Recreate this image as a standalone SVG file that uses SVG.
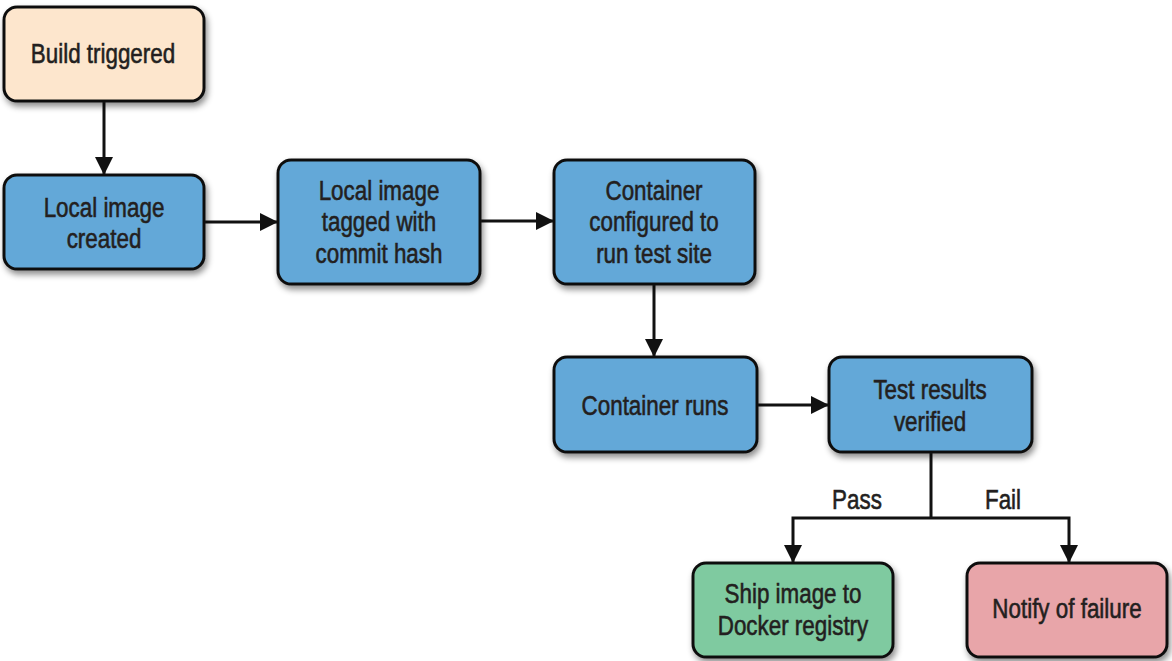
<svg xmlns="http://www.w3.org/2000/svg" width="1172" height="661" viewBox="0 0 1172 661">
<style>
.box{stroke:#111;stroke-width:3;filter:url(#sh)}
.t{font-family:"Liberation Sans",Arial,sans-serif;font-size:28px;fill:#231f20;stroke:#231f20;stroke-width:0.6;text-anchor:middle}
.c{stroke:#111;stroke-width:3;fill:none}
</style>
<defs>
<filter id="sh" x="-10%" y="-10%" width="130%" height="140%">
<feDropShadow dx="2" dy="4" stdDeviation="3" flood-color="#000" flood-opacity="0.45"/>
</filter>
<marker id="ah" markerUnits="userSpaceOnUse" markerWidth="18" markerHeight="18" viewBox="0 0 18 18" refX="17" refY="9" orient="auto">
<path d="M0,0 L18,9 L0,18 Z" fill="#111"/>
</marker>
</defs>
<g id="connectors">
<line class="c" x1="104" y1="101" x2="104" y2="174" marker-end="url(#ah)"/>
<line class="c" x1="205" y1="222" x2="277" y2="222" marker-end="url(#ah)"/>
<line class="c" x1="481" y1="221" x2="553" y2="221" marker-end="url(#ah)"/>
<line class="c" x1="654" y1="285" x2="654" y2="356" marker-end="url(#ah)"/>
<line class="c" x1="757" y1="405" x2="828" y2="405" marker-end="url(#ah)"/>
<polyline class="c" points="931,453 931,518"/>
<polyline class="c" points="931,518 793,518 793,562" marker-end="url(#ah)"/>
<polyline class="c" points="931,518 1069,518 1069,562" marker-end="url(#ah)"/>
<text class="t" transform="translate(857,509) scale(0.8,1)">Pass</text>
<text class="t" transform="translate(1003,509) scale(0.8,1)">Fail</text>
</g>
<g id="build-triggered">
<rect class="box" x="4" y="7" width="200" height="94" rx="13" fill="#fde6cd"/>
<text class="t" transform="translate(103,63) scale(0.8,1)">Build triggered</text>
</g>
<g id="local-image-created">
<rect class="box" x="4" y="175" width="200" height="94" rx="13" fill="#63a8d8"/>
<text class="t" transform="translate(104,217) scale(0.8,1)">Local image</text>
<text class="t" transform="translate(104,248) scale(0.8,1)">created</text>
</g>
<g id="local-image-tagged">
<rect class="box" x="278" y="160" width="202" height="124" rx="13" fill="#63a8d8"/>
<text class="t" transform="translate(379,200) scale(0.8,1)">Local image</text>
<text class="t" transform="translate(379,231) scale(0.8,1)">tagged with</text>
<text class="t" transform="translate(379,263) scale(0.8,1)">commit hash</text>
</g>
<g id="container-configured">
<rect class="box" x="554" y="160" width="201" height="124" rx="13" fill="#63a8d8"/>
<text class="t" transform="translate(654,200) scale(0.8,1)">Container</text>
<text class="t" transform="translate(654,231) scale(0.8,1)">configured to</text>
<text class="t" transform="translate(654,263) scale(0.8,1)">run test site</text>
</g>
<g id="container-runs">
<rect class="box" x="554" y="357" width="203" height="95" rx="13" fill="#63a8d8"/>
<text class="t" transform="translate(655,415) scale(0.8,1)">Container runs</text>
</g>
<g id="test-results-verified">
<rect class="box" x="829" y="357" width="203" height="95" rx="13" fill="#63a8d8"/>
<text class="t" transform="translate(930,399) scale(0.8,1)">Test results</text>
<text class="t" transform="translate(930,431) scale(0.8,1)">verified</text>
</g>
<g id="ship-image">
<rect class="box" x="693" y="563" width="200" height="94" rx="13" fill="#7fcaa0"/>
<text class="t" transform="translate(793,603) scale(0.8,1)">Ship image to</text>
<text class="t" transform="translate(793,635) scale(0.8,1)">Docker registry</text>
</g>
<g id="notify-failure">
<rect class="box" x="967" y="563" width="200" height="94" rx="13" fill="#e8a5a9"/>
<text class="t" transform="translate(1067,618) scale(0.8,1)">Notify of failure</text>
</g>
</svg>
